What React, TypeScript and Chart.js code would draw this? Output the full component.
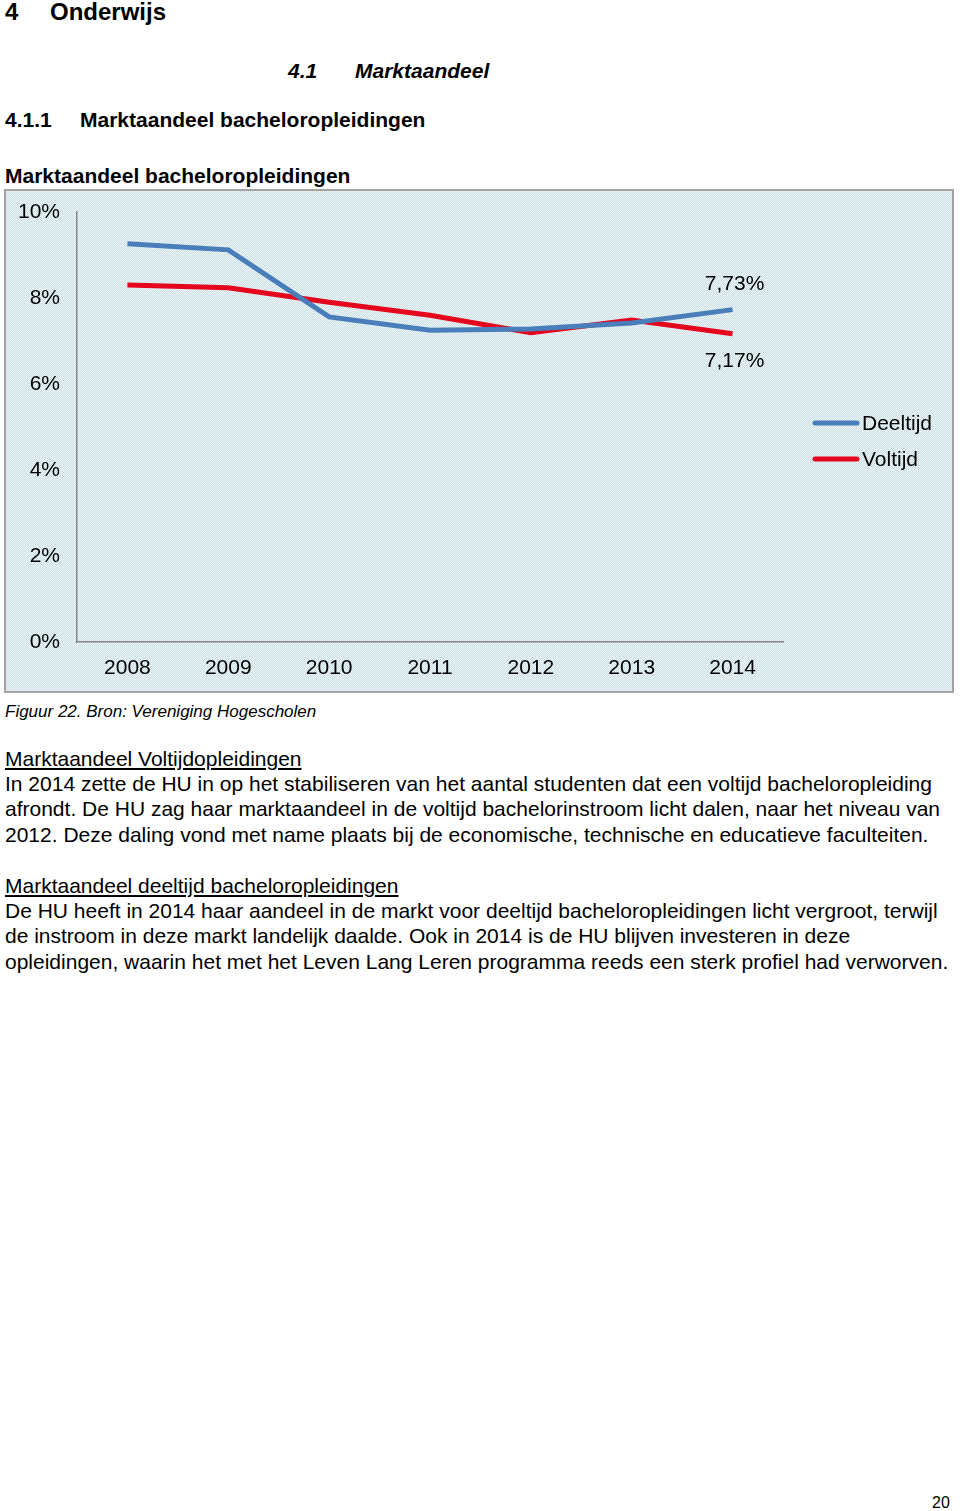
import React, { useEffect, useRef } from "react";
import { Chart, registerables } from "chart.js";

Chart.register(...registerables);

const years = ["2008", "2009", "2010", "2011", "2012", "2013", "2014"];
const deeltijd = [9.26, 9.12, 7.56, 7.25, 7.28, 7.42, 7.73];
const voltijd = [8.3, 8.24, 7.9, 7.6, 7.19, 7.49, 7.17];
const deeltijdLabels = ["", "", "", "", "", "", "7,73%"];
const voltijdLabels = ["", "", "", "", "", "", "7,17%"];
const seriesNames = ["Deeltijd", "Voltijd"];
const seriesColors = ["#4a7ebb", "#e5051c"];

const FONT = "'Liberation Sans', Arial, sans-serif";

function makePattern(ctx: CanvasRenderingContext2D) {
  const c = document.createElement("canvas");
  c.width = 2;
  c.height = 2;
  const p = c.getContext("2d")!;
  p.fillStyle = "#eef6f7";
  p.fillRect(0, 0, 2, 2);
  p.fillStyle = "#c9dfe3";
  p.fillRect(0, 0, 1, 1);
  p.fillRect(1, 1, 1, 1);
  return ctx.createPattern(c, "repeat");
}

const bgPlugin = {
  id: "bgPlugin",
  beforeDraw(chart: any) {
    const ctx = chart.ctx as CanvasRenderingContext2D;
    const w = chart.width;
    const h = chart.height;
    ctx.save();
    const pat = makePattern(ctx);
    ctx.fillStyle = pat || "#dde9ec";
    ctx.fillRect(0, 0, w, h);
    ctx.strokeStyle = "#a3a3a3";
    ctx.lineWidth = 2;
    ctx.strokeRect(1, 1, w - 2, h - 2);
    ctx.restore();
  },
};

const labelPlugin = {
  id: "labelPlugin",
  afterDatasetsDraw(chart: any) {
    const ctx = chart.ctx as CanvasRenderingContext2D;
    ctx.save();
    ctx.font = `21px ${FONT}`;
    ctx.fillStyle = "#000";
    ctx.textAlign = "center";
    ctx.textBaseline = "middle";
    const sets = [
      { labels: deeltijdLabels, dy: -25 },
      { labels: voltijdLabels, dy: 28 },
    ];
    sets.forEach((s, di) => {
      const meta = chart.getDatasetMeta(di);
      meta.data.forEach((pt: any, i: number) => {
        const t = s.labels[i];
        if (t) ctx.fillText(t, pt.x + 2, pt.y + s.dy);
      });
    });
    // legend
    const area = chart.chartArea;
    const lx = area.right + 32;
    const ly = area.top + 211;
    seriesNames.forEach((name, i) => {
      const y = ly + i * 36;
      ctx.strokeStyle = seriesColors[i];
      ctx.lineWidth = 5;
      ctx.lineCap = "round";
      ctx.beginPath();
      ctx.moveTo(lx, y);
      ctx.lineTo(lx + 42, y);
      ctx.stroke();
      ctx.textAlign = "left";
      ctx.fillText(name, lx + 47, y + 1);
    });
    ctx.restore();
  },
};

function LineChart() {
  const ref = useRef<HTMLCanvasElement>(null);
  useEffect(() => {
    if (!ref.current) return;
    const chart = new Chart(ref.current, {
      type: "line",
      data: {
        labels: years,
        datasets: [
          {
            label: seriesNames[0],
            data: deeltijd,
            borderColor: seriesColors[0],
            backgroundColor: seriesColors[0],
            borderWidth: 5,
            pointRadius: 0,
            tension: 0,
          },
          {
            label: seriesNames[1],
            data: voltijd,
            borderColor: seriesColors[1],
            backgroundColor: seriesColors[1],
            borderWidth: 5,
            pointRadius: 0,
            tension: 0,
          },
        ],
      },
      options: {
        responsive: false,
        animation: false,
        layout: { padding: { top: 23, right: 171, left: 0, bottom: 0 } },
        plugins: {
          legend: { display: false },
          tooltip: { enabled: false },
        },
        scales: {
          x: {
            offset: true,
            grid: { display: false, drawTicks: false },
            border: { display: true, color: "#868686", width: 1.5 },
            ticks: {
              color: "#000",
              font: { family: FONT, size: 21 },
              padding: 14,
              maxRotation: 0,
            },
            afterFit(scale: any) {
              scale.height = 51;
              scale.paddingLeft = 0;
              scale.paddingRight = 0;
            },
          },
          y: {
            min: 0,
            max: 10,
            grid: { display: false, drawTicks: false },
            border: { display: true, color: "#868686", width: 1.5 },
            ticks: {
              stepSize: 2,
              color: "#000",
              font: { family: FONT, size: 21 },
              padding: 17,
              callback: (v: any) => `${v}%`,
            },
            afterFit(scale: any) {
              scale.width = 73;
              scale.paddingTop = 0;
              scale.paddingBottom = 0;
            },
          },
        },
      },
      plugins: [bgPlugin, labelPlugin],
    });
    return () => chart.destroy();
  }, []);
  return <canvas ref={ref} width={950} height={504} style={{ width: 950, height: 504, display: "block" }} />;
}

const bodyA = [
  "In 2014 zette de HU in op het stabiliseren van het aantal studenten dat een voltijd bacheloropleiding",
  "afrondt. De HU zag haar marktaandeel in de voltijd bachelorinstroom licht dalen, naar het niveau van",
  "2012. Deze daling vond met name plaats bij de economische, technische en educatieve faculteiten.",
];
const bodyB = [
  "De HU heeft in 2014 haar aandeel in de markt voor deeltijd bacheloropleidingen licht vergroot, terwijl",
  "de instroom in deze markt landelijk daalde. Ook in 2014 is de HU blijven investeren in deze",
  "opleidingen, waarin het met het Leven Lang Leren programma reeds een sterk profiel had verworven.",
];

const txt = (top: number, left: number, extra: React.CSSProperties = {}) => ({
  position: "absolute" as const,
  top,
  left,
  fontFamily: FONT,
  fontSize: 21,
  lineHeight: "25px",
  whiteSpace: "nowrap" as const,
  color: "#000",
  ...extra,
});

export default function App() {
  return (
    <div style={{ position: "absolute", left: 0, top: 0, width: 960, height: 1511, background: "#fff" }}>
      <div style={txt(-2, 5, { fontSize: 24, fontWeight: "bold", lineHeight: "28px" })}>4</div>
      <div style={txt(-2, 50, { fontSize: 24, fontWeight: "bold", lineHeight: "28px" })}>Onderwijs</div>
      <div style={txt(58, 288, { fontWeight: "bold", fontStyle: "italic" })}>4.1</div>
      <div style={txt(58, 355, { fontWeight: "bold", fontStyle: "italic" })}>Marktaandeel</div>
      <div style={txt(107, 5, { fontWeight: "bold" })}>4.1.1</div>
      <div style={txt(107, 80, { fontWeight: "bold" })}>Marktaandeel bacheloropleidingen</div>
      <div style={txt(163, 5, { fontWeight: "bold" })}>Marktaandeel bacheloropleidingen</div>
      <div style={{ position: "absolute", left: 4, top: 189 }}>
        <LineChart />
      </div>
      <div style={txt(699, 5, { fontSize: 17, fontStyle: "italic" })}>Figuur 22. Bron: Vereniging Hogescholen</div>
      <div style={txt(746, 5, { textDecoration: "underline" })}>Marktaandeel Voltijdopleidingen</div>
      {bodyA.map((l, i) => (
        <div key={"a" + i} style={txt(771 + i * 25.3, 5)}>{l}</div>
      ))}
      <div style={txt(873, 5, { textDecoration: "underline" })}>Marktaandeel deeltijd bacheloropleidingen</div>
      {bodyB.map((l, i) => (
        <div key={"b" + i} style={txt(898 + i * 25.3, 5)}>{l}</div>
      ))}
      <div style={txt(1491, 932, { fontSize: 16, lineHeight: "24px" })}>20</div>
    </div>
  );
}
